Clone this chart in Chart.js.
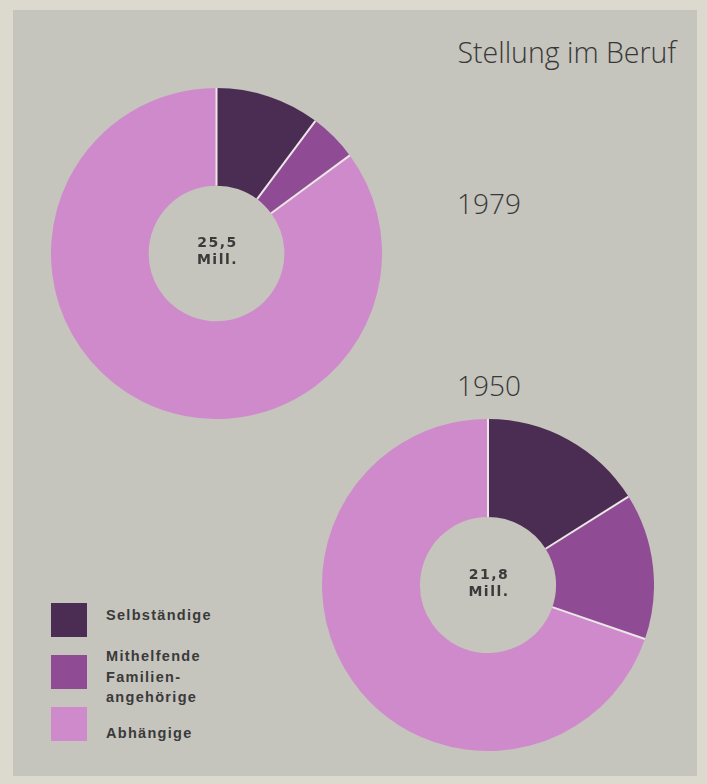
<!DOCTYPE html>
<html>
<head>
<meta charset="utf-8">
<script src="https://cdn.jsdelivr.net/npm/chart.js@4"></script>
<style>
  html, body { margin: 0; padding: 0; }
  body { width: 707px; height: 784px; background: #dcd9cf; position: relative; overflow: hidden; }
  #panel { position: absolute; left: 13px; top: 10px; width: 684px; height: 766px; background: #c5c4bd; }
  .box { position: absolute; }
  .title { position: absolute; right: 31px; top: 33px; font-family: "Open Sans", sans-serif; font-weight: 300;
           font-size: 28.5px; color: #383838; }
  .year { position: absolute; left: 457px; font-family: "Open Sans", sans-serif; font-weight: 300; font-size: 28px; color: #383838; }
  #legend { position: absolute; left: 51px; top: 603px; font-family: "Liberation Sans", Arial, sans-serif; }
  .sw { position: absolute; left: 0; width: 36px; height: 34px; }
  .lbl { position: absolute; left: 55px; font-size: 14.5px; line-height: 20px; height: 20px; color: #3a3a3a;
         letter-spacing: 1.3px; white-space: nowrap; font-weight: bold; }
</style>
</head>
<body>
<div id="panel"></div>
<div class="title">Stellung im Beruf</div>
<div class="year" style="top:184px">1979</div>
<div class="year" style="top:366px">1950</div>
<div class="box" style="left:51px;top:88px;width:331px;height:331px"><canvas id="c1979"></canvas></div>
<div class="box" style="left:322px;top:419px;width:332px;height:332px"><canvas id="c1950"></canvas></div>
<div id="legend"></div>
<script>
// Erwerbstätige nach Stellung im Beruf, Mill.
const categories = ['Selbständige', 'Mithelfende Familienangehörige', 'Abhängige'];
const legendLines = [['Selbständige'], ['Mithelfende', 'Familien-', 'angehörige'], ['Abhängige']];
const values1979 = [2.6, 1.2, 21.7];
const values1950 = [3.5, 3.1, 15.2];
const totals = { '1979': '25,5', '1950': '21,8' };
const colors = ['#4b2c52', '#8f4c95', '#cf8acb'];

// white separator lines between slices only (no outline round the ring)
const separators = {
  id: 'separators',
  afterDatasetsDraw(chart) {
    const ctx = chart.ctx;
    const arcs = chart.getDatasetMeta(0).data;
    ctx.save();
    ctx.strokeStyle = '#ece6e6';
    ctx.lineWidth = 2;
    arcs.forEach(a => {
      const p = a.getProps(['x', 'y', 'startAngle', 'innerRadius', 'outerRadius']);
      const c = Math.cos(p.startAngle), s = Math.sin(p.startAngle);
      ctx.beginPath();
      ctx.moveTo(p.x + c * p.innerRadius, p.y + s * p.innerRadius);
      ctx.lineTo(p.x + c * p.outerRadius, p.y + s * p.outerRadius);
      ctx.stroke();
    });
    ctx.restore();
  }
};

const centerText = {
  id: 'centerText',
  afterDraw(chart, args, opts) {
    const a = chart.getDatasetMeta(0).data[0];
    const ctx = chart.ctx;
    ctx.save();
    ctx.fillStyle = '#3a3a3a';
    ctx.textAlign = 'center';
    ctx.textBaseline = 'middle';
    ctx.font = 'bold 14px "DejaVu Sans", sans-serif';
    ctx.letterSpacing = '1.5px';
    ctx.fillText(opts.total, a.x + 1, a.y - 10);
    ctx.fillText('Mill.', a.x + 1, a.y + 7);
    ctx.restore();
  }
};

function makeDonut(id, values, total) {
  return new Chart(document.getElementById(id), {
    type: 'doughnut',
    data: {
      labels: categories,
      datasets: [{
        data: values,
        backgroundColor: colors,
        borderWidth: 0
      }]
    },
    options: {
      responsive: true,
      maintainAspectRatio: false,
      animation: false,
      cutout: '41%',
      plugins: {
        legend: { display: false },
        tooltip: { enabled: false },
        centerText: { total: total }
      }
    },
    plugins: [separators, centerText]
  });
}

makeDonut('c1979', values1979, totals['1979']);
makeDonut('c1950', values1950, totals['1950']);

// legend built from the same arrays
const legend = document.getElementById('legend');
const swatchTops = [0, 52, 104];
const lineTops = [[2], [43, 64, 84], [120]];
legendLines.forEach((lines, i) => {
  const sw = document.createElement('div');
  sw.className = 'sw';
  sw.style.top = swatchTops[i] + 'px';
  sw.style.background = colors[i];
  legend.appendChild(sw);
  lines.forEach((t, j) => {
    const lb = document.createElement('div');
    lb.className = 'lbl';
    lb.style.top = lineTops[i][j] + 'px';
    lb.textContent = t;
    legend.appendChild(lb);
  });
});
</script>
</body>
</html>
